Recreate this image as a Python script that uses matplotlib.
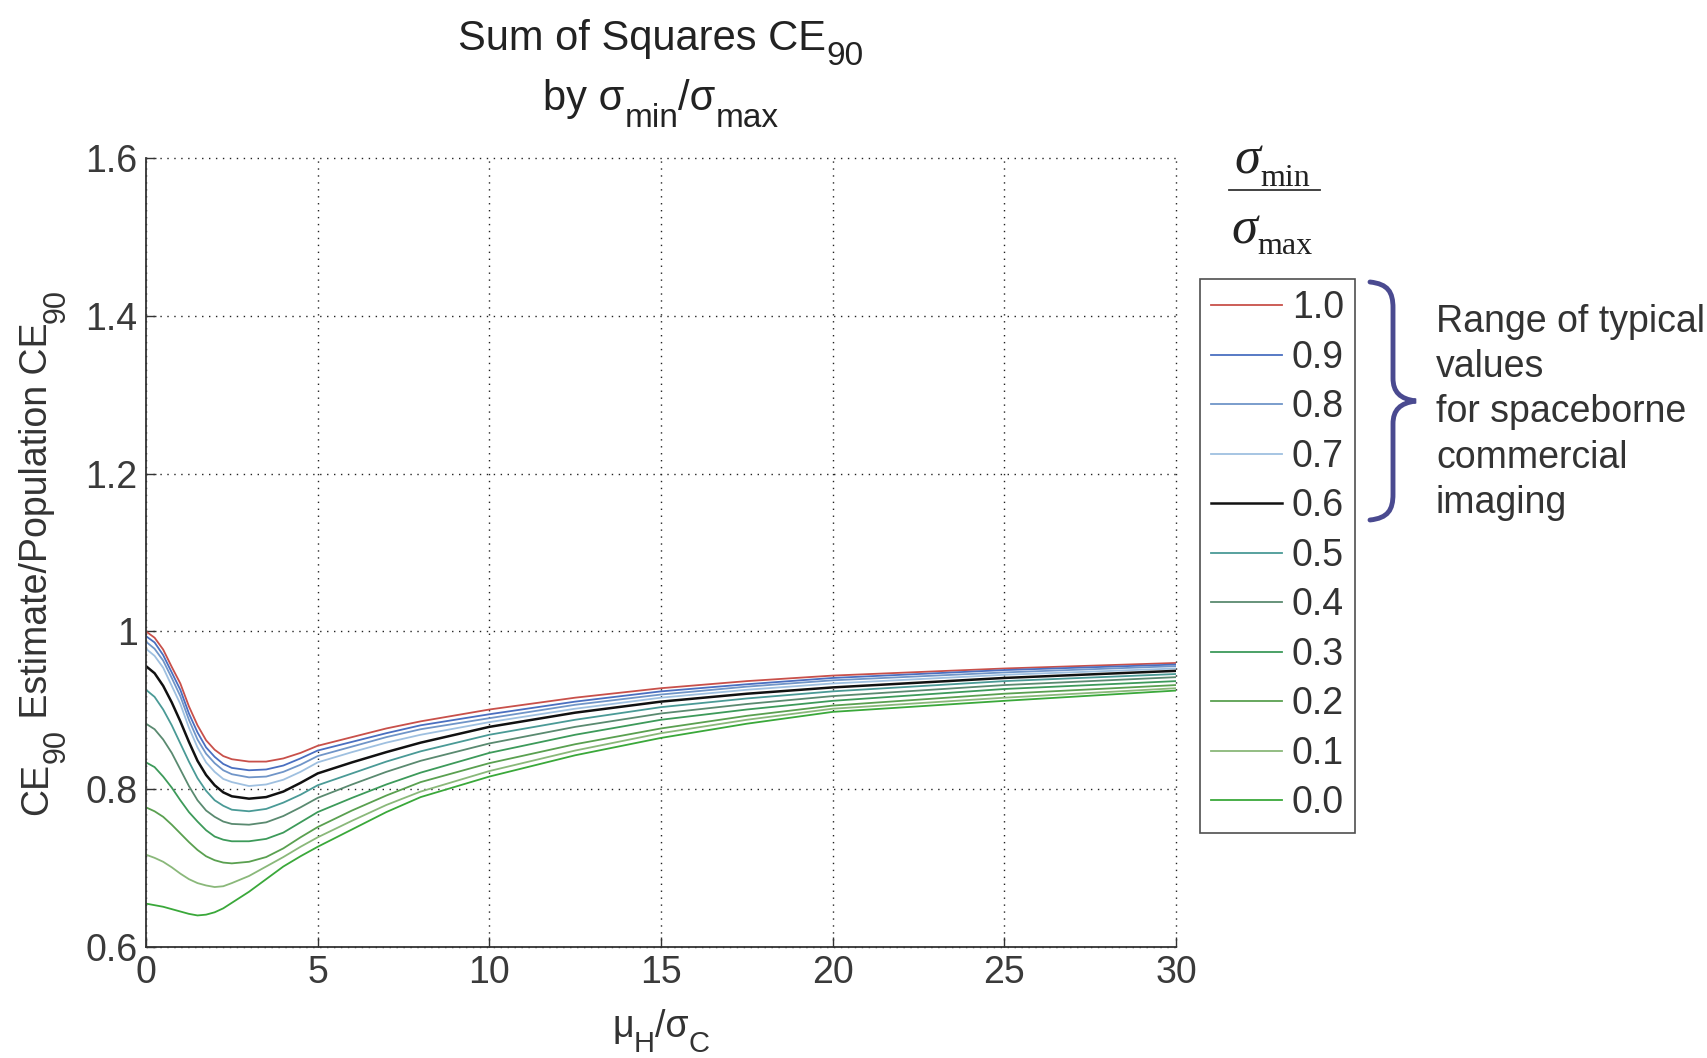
import matplotlib
matplotlib.use('Agg')
import matplotlib.pyplot as plt
from matplotlib.path import Path
from matplotlib.patches import PathPatch
from matplotlib.lines import Line2D

plt.rcParams['font.family'] = ['Liberation Sans', 'DejaVu Sans']

# mu_H / sigma_C sample points
mu_ratio = [0, 0.25, 0.5, 0.75, 1, 1.25, 1.5, 1.75, 2, 2.25, 2.5, 3, 3.5, 4, 4.5,
            5, 6, 7, 8, 10, 12.5, 15, 17.5, 20, 25, 30]

# CE90 estimate / population CE90, one list per sigma_min/sigma_max
ce_10 = [1.000, 0.992, 0.977, 0.955, 0.934, 0.905, 0.881, 0.862, 0.850, 0.842, 0.838, 0.835, 0.835, 0.839, 0.846,
         0.855, 0.866, 0.877, 0.886, 0.901, 0.916, 0.928, 0.937, 0.944, 0.953, 0.960]
ce_09 = [0.994, 0.986, 0.970, 0.948, 0.926, 0.896, 0.872, 0.853, 0.841, 0.832, 0.827, 0.824, 0.825, 0.830, 0.839,
         0.849, 0.860, 0.871, 0.881, 0.895, 0.911, 0.924, 0.933, 0.941, 0.951, 0.958]
ce_08 = [0.987, 0.978, 0.963, 0.941, 0.918, 0.888, 0.863, 0.845, 0.833, 0.824, 0.819, 0.815, 0.816, 0.822, 0.831,
         0.842, 0.854, 0.866, 0.876, 0.890, 0.907, 0.920, 0.930, 0.938, 0.948, 0.956]
ce_07 = [0.978, 0.969, 0.954, 0.931, 0.908, 0.878, 0.853, 0.834, 0.822, 0.813, 0.809, 0.804, 0.806, 0.812, 0.822,
         0.834, 0.847, 0.859, 0.869, 0.885, 0.902, 0.916, 0.926, 0.934, 0.945, 0.953]
ce_06 = [0.956, 0.947, 0.931, 0.910, 0.886, 0.860, 0.836, 0.818, 0.805, 0.796, 0.791, 0.788, 0.790, 0.797, 0.808,
         0.820, 0.834, 0.847, 0.859, 0.879, 0.897, 0.911, 0.921, 0.929, 0.941, 0.950]
ce_05 = [0.926, 0.917, 0.901, 0.881, 0.858, 0.835, 0.814, 0.798, 0.786, 0.779, 0.774, 0.772, 0.775, 0.783, 0.793,
         0.805, 0.820, 0.835, 0.848, 0.869, 0.888, 0.904, 0.915, 0.924, 0.937, 0.946]
ce_04 = [0.883, 0.876, 0.863, 0.846, 0.825, 0.804, 0.786, 0.773, 0.765, 0.759, 0.756, 0.755, 0.758, 0.766, 0.777,
         0.789, 0.806, 0.822, 0.836, 0.858, 0.879, 0.896, 0.908, 0.918, 0.932, 0.942]
ce_03 = [0.834, 0.828, 0.816, 0.802, 0.786, 0.771, 0.759, 0.748, 0.740, 0.736, 0.734, 0.734, 0.737, 0.745, 0.758,
         0.771, 0.789, 0.806, 0.821, 0.846, 0.869, 0.888, 0.901, 0.912, 0.927, 0.937]
ce_02 = [0.777, 0.772, 0.765, 0.755, 0.744, 0.733, 0.723, 0.715, 0.710, 0.707, 0.706, 0.708, 0.714, 0.725, 0.739,
         0.752, 0.773, 0.792, 0.809, 0.833, 0.857, 0.877, 0.893, 0.906, 0.921, 0.932]
ce_01 = [0.717, 0.713, 0.708, 0.701, 0.693, 0.686, 0.681, 0.678, 0.676, 0.677, 0.681, 0.690, 0.702, 0.714, 0.727,
         0.739, 0.760, 0.780, 0.797, 0.823, 0.849, 0.871, 0.888, 0.902, 0.916, 0.928]
ce_00 = [0.655, 0.653, 0.651, 0.648, 0.645, 0.642, 0.640, 0.641, 0.644, 0.649, 0.656, 0.670, 0.686, 0.702, 0.715,
         0.727, 0.749, 0.771, 0.790, 0.816, 0.843, 0.865, 0.883, 0.898, 0.912, 0.925]

ratio_labels = ['1.0', '0.9', '0.8', '0.7', '0.6', '0.5', '0.4', '0.3', '0.2', '0.1', '0.0']
series = [ce_10, ce_09, ce_08, ce_07, ce_06, ce_05, ce_04, ce_03, ce_02, ce_01, ce_00]
colors = ['#c8504a', '#4a6fc0', '#7095c8', '#9fc0e0', '#111111', '#4a9a96',
          '#5a8a70', '#3d9a5a', '#5aa050', '#8ab87a', '#3aa83a']

x_ticks = [0, 5, 10, 15, 20, 25, 30]
y_ticks = [0.6, 0.8, 1.0, 1.2, 1.4, 1.6]
y_ticklabels = ['0.6', '0.8', '1', '1.2', '1.4', '1.6']

W, H = 1708, 1058


def px(x, y):
    return (x / W, 1 - y / H)


fig = plt.figure(figsize=(W / 100, H / 100), dpi=100)
ax = fig.add_axes([146 / W, 1 - 947 / H, (1176 - 146) / W, (947 - 158) / H])
renderer = fig.canvas.get_renderer()


def text_width(s, size, **kw):
    t = fig.text(0, 0, s, fontsize=size, **kw)
    w = t.get_window_extent(renderer).width
    t.remove()
    return w


def rich(pieces, x, y, rotation=0, color='#333333'):
    # pieces: (string, fontsize, drop in px, extra kwargs); centred on x (or y when rotated)
    widths = [text_width(s, sz, **kw) for s, sz, dy, kw in pieces]
    pos = -sum(widths) / 2
    for (s, sz, dy, kw), w in zip(pieces, widths):
        if rotation == 0:
            xx, yy = x + pos, y + dy
        else:
            xx, yy = x + dy, y - pos
        fig.text(*px(xx, yy), s, fontsize=sz, rotation=rotation, rotation_mode='anchor',
                 ha='left', va='baseline', color=color, **kw)
        pos += w


for lab, vals, c in zip(ratio_labels, series, colors):
    lw = 1.8 if lab == '0.6' else 1.3
    ax.plot(mu_ratio, vals, color=c, lw=lw, label=lab)

ax.set_xlim(0, 30)
ax.set_ylim(0.6, 1.6)
ax.set_xticks(x_ticks)
ax.set_yticks(y_ticks)
ax.set_yticklabels(y_ticklabels)
ax.tick_params(direction='in', length=7, width=1, labelsize=27, colors='#333333',
               labelcolor='#3a3a3a', pad=6)
ax.spines['top'].set_visible(False)
ax.spines['right'].set_visible(False)
for s in ['left', 'bottom']:
    ax.spines[s].set_color('#333333')
    ax.spines[s].set_linewidth(1.3)
ax.grid(True, color='#222222', lw=1.0, ls=(0, (1, 4)))
for gl in ax.get_xgridlines() + ax.get_ygridlines():
    gl.set_clip_on(False)

# titles and axis labels with MATLAB-style big, low subscripts
rich([('Sum of Squares CE', 30, 0, {}), ('90', 24, 15, {})], 661, 50, color='#222222')
rich([('by σ', 30, 0, {}), ('min', 24, 17, {}), ('/σ', 30, 0, {}), ('max', 24, 17, {})],
     661, 110, color='#222222')
rich([('μ', 27, 0, {}), ('H', 21, 15, {}), ('/σ', 27, 0, {}), ('C', 21, 15, {})], 661, 1037)
rich([('CE', 27, 0, {}), ('90', 22, 18, {}), (' Estimate/Population CE', 27, 0, {}),
      ('90', 22, 18, {})], 47, 552, rotation=90)

leg = ax.legend(loc='upper left', bbox_to_anchor=px(1200, 279), bbox_transform=fig.transFigure,
                fontsize=27, frameon=True, fancybox=False, edgecolor='#222222',
                handlelength=1.9, handletextpad=0.25, labelspacing=0.36,
                borderpad=0.3, borderaxespad=0)
leg.get_frame().set_linewidth(1.2)
for t in leg.get_texts():
    t.set_color('#333333')

# legend title drawn as a fraction
serif_it = {'family': 'Liberation Serif', 'style': 'italic'}
serif = {'family': 'Liberation Serif'}
rich([('σ', 38, 0, serif_it), ('min', 23, 12, serif)], 1272, 174, color='#222222')
rich([('σ', 38, 0, serif_it), ('max', 23, 10, serif)], 1272, 244, color='#222222')
x0, y0 = px(1229, 190)
x1, _ = px(1320, 190)
fig.add_artist(Line2D([x0, x1], [y0, y0], color='#333333', lw=1.3))

# curly brace
brace_pts = [(1370, 282), (1388, 284), (1393, 292), (1393, 308), (1393, 378),
             (1393, 392), (1400, 399), (1416, 401), (1400, 403), (1393, 410),
             (1393, 424), (1393, 494), (1393, 510), (1388, 518), (1370, 520)]
codes = [Path.MOVETO, Path.CURVE4, Path.CURVE4, Path.CURVE4, Path.LINETO,
         Path.CURVE4, Path.CURVE4, Path.CURVE4, Path.CURVE4, Path.CURVE4,
         Path.CURVE4, Path.LINETO, Path.CURVE4, Path.CURVE4, Path.CURVE4]
brace = PathPatch(Path([px(*p) for p in brace_pts], codes), transform=fig.transFigure,
                  fill=False, edgecolor='#4a4a90', lw=3.5, capstyle='round')
fig.add_artist(brace)

fig.text(*px(1436, 304), 'Range of typical\nvalues\nfor spaceborne\ncommercial\nimaging',
         fontsize=27, color='#333333', ha='left', va='top', linespacing=1.33)

fig.savefig('out.png', dpi=100, facecolor='white')
